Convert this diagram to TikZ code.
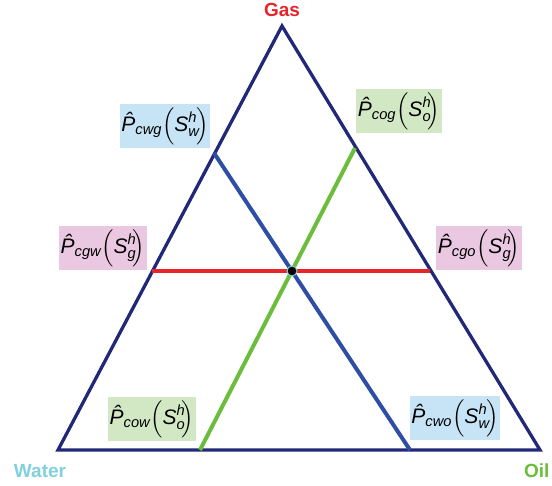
\documentclass[tikz,border=0pt]{standalone}
\usepackage{amsmath}
\usepackage{fontspec}
\setmainfont{Liberation Sans}
\usetikzlibrary{positioning}

\definecolor{navy}{RGB}{34,40,120}
\definecolor{wline}{RGB}{46,78,165}
\definecolor{oline}{RGB}{106,190,60}
\definecolor{gline}{RGB}{232,36,43}
\definecolor{wfill}{RGB}{198,228,246}
\definecolor{ofill}{RGB}{210,232,196}
\definecolor{gfill}{RGB}{234,200,226}
\definecolor{wtext}{RGB}{128,208,222}

% capillary pressure label: P-hat_{pair}(S_{phase}^h)
\newcommand{\pcap}[2]{$\text{\itshape\^{P}}_{\textit{#1}}\!\left(\textit{S}^{\textit{h}}_{\textit{#2}}\!\right)$}

\tikzset{
  pclabel/.style={inner xsep=1.5pt, inner ysep=3pt, font=\fontsize{21}{23}\selectfont},
  phase/.style={font=\fontsize{19}{21}\selectfont\bfseries},
}

\begin{document}
\begin{tikzpicture}[x=1pt, y=-1pt, >=latex]
  \useasboundingbox (0,0) rectangle (552,486);

  % corners of the ternary diagram
  \coordinate (G) at (282,26);
  \coordinate (W) at (58,450);
  \coordinate (O) at (540,450);

  % end points of the iso-saturation lines
  \coordinate (g1) at (152,271);
  \coordinate (g2) at (430,271);
  \coordinate (w1) at (214,153);
  \coordinate (w2) at (410,450);
  \coordinate (o1) at (355,148);
  \coordinate (o2) at (200,450);

  \draw[navy, line width=3.3pt, line join=miter] (G) -- (W) -- (O) -- cycle;

  \draw[gline, line width=4pt] (g1) -- (g2);
  \draw[oline, line width=4pt] (o1) -- (o2);
  \draw[wline, line width=4pt] (w1) -- (w2);

  % common point
  \node[circle, fill=black, draw=wtext, line width=1pt, inner sep=0pt, minimum size=10pt] (pt) at (292,271) {};

  % phase names
  \node[phase, gline] (gas) at (282,10) {Gas};
  \node[phase, wtext] (water) at (40,471) {Water};
  \node[phase, oline, anchor=east] (oil) at (553,471) {Oil};

  % capillary pressure labels
  \node[pclabel, fill=wfill] (cwg) at (165,126) {\pcap{cwg}{w}};
  \node[pclabel, fill=ofill] (cog) at (399,111) {\pcap{cog}{o}};
  \node[pclabel, fill=gfill] (cgw) at (103,248) {\pcap{cgw}{g}};
  \node[pclabel, fill=gfill] (cgo) at (479,248) {\pcap{cgo}{g}};
  \node[pclabel, fill=ofill] (cow) at (152,419) {\pcap{cow}{o}};
  \node[pclabel, fill=wfill] (cwo) at (455,418) {\pcap{cwo}{w}};
\end{tikzpicture}
\end{document}
